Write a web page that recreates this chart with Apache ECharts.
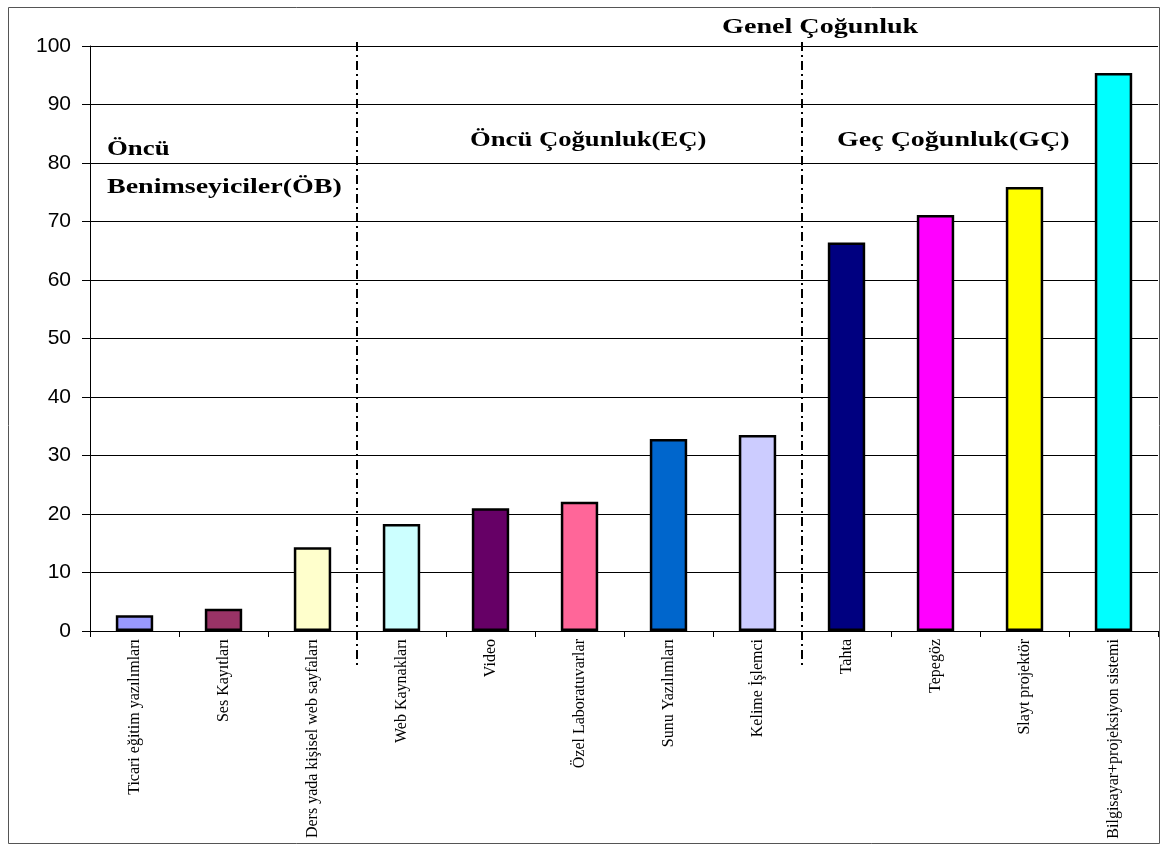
<!DOCTYPE html>
<html>
<head>
<meta charset="utf-8">
<script src="https://cdn.jsdelivr.net/npm/echarts@6/dist/echarts.min.js"></script>
<style>
html,body{margin:0;padding:0;background:#fff;}
#chart{width:1161px;height:846px;}
</style>
</head>
<body>
<div id="chart"></div>
<script>
const categories = ['Ticari eğitim yazılımları', 'Ses Kayıtları', 'Ders yada kişisel web sayfaları', 'Web Kaynakları', 'Video', 'Özel Laboratuvarlar', 'Sunu Yazılımları', 'Kelime İşlemci', 'Tahta', 'Tepegöz', 'Slayt projektör', 'Bilgisayar+projeksiyon sistemi'];
const values = [2.7, 3.8, 14.3, 18.3, 21.0, 22.1, 32.8, 33.5, 66.4, 71.1, 75.9, 95.4];
const barColors = ['#9999FF', '#993366', '#FFFFCC', '#CCFFFF', '#660066', '#FF6699', '#0066CC', '#CCCCFF', '#000080', '#FF00FF', '#FFFF00', '#00FFFF'];
const yTicks = [0, 10, 20, 30, 40, 50, 60, 70, 80, 90, 100];
const dividerAfter = [2, 7];
const groupLabels = ['Öncü', 'Benimseyiciler(ÖB)', 'Öncü Çoğunluk(EÇ)', 'Geç Çoğunluk(GÇ)', 'Genel Çoğunluk'];

const chart = echarts.init(document.getElementById('chart'), null, {renderer: 'canvas'});

function txt(id, text, x, y, sx, fs) {
  return {type: 'text', id: id, x: x, y: y, scaleX: sx, z: 10,
    style: {text: text, textAlign: 'left', textVerticalAlign: 'middle',
      fontFamily: '"Liberation Serif","Times New Roman",serif', fontWeight: 'bold', fontSize: fs, fill: '#000'}};
}

const option = {
  animation: false,
  backgroundColor: '#fff',
  grid: {left: 90, right: 3, top: 46, bottom: 215, containLabel: false},
  xAxis: {
    type: 'category',
    data: categories,
    axisLine: {show: true, lineStyle: {color: '#000', width: 1}},
    axisTick: {show: true, length: 6, lineStyle: {color: '#000'}},
    axisLabel: {interval: 0, rotate: 90, margin: 8, fontSize: 16, color: '#000',
      fontFamily: '"Liberation Serif","Times New Roman",serif'},
    splitLine: {show: false}
  },
  yAxis: {
    type: 'value',
    min: yTicks[0], max: yTicks[yTicks.length - 1], interval: 10,
    axisLine: {show: true, lineStyle: {color: '#000', width: 1}},
    axisTick: {show: true, length: 8, lineStyle: {color: '#000'}},
    axisLabel: {fontSize: 21, color: '#000', margin: 19, fontFamily: '"Liberation Sans",Arial,sans-serif'},
    splitLine: {show: true, lineStyle: {color: '#000', width: 1}}
  },
  series: [{
    type: 'bar',
    data: values.map((v, i) => ({value: v, itemStyle: {color: barColors[i]}})),
    barWidth: '42%',
    itemStyle: {borderColor: '#000', borderWidth: 2.5}
  }],
  graphic: [
    {type: 'rect', id: 'border', shape: {x: 8.5, y: 7.5, width: 1151, height: 836}, style: {fill: 'none', stroke: '#555', lineWidth: 1}, z: 0},
    txt('g0', groupLabels[0], 107, 150, 1.34, 20),
    txt('g1', groupLabels[1], 107, 188, 1.40, 20),
    txt('g2', groupLabels[2], 470, 141, 1.27, 21),
    txt('g3', groupLabels[3], 837, 141, 1.40, 20),
    txt('g4', groupLabels[4], 722, 28, 1.34, 21)
  ]
};
chart.setOption(option);

const divs = dividerAfter.map((i, k) => {
  const x = Math.round((chart.convertToPixel({xAxisIndex: 0}, i) + chart.convertToPixel({xAxisIndex: 0}, i + 1)) / 2);
  return {type: 'line', id: 'div' + k, z: 5,
    shape: {x1: x, y1: 42, x2: x, y2: 668},
    style: {stroke: '#000', lineWidth: 2, lineDash: [9, 4, 2, 4]}};
});
chart.setOption({graphic: divs});
</script>
</body>
</html>
